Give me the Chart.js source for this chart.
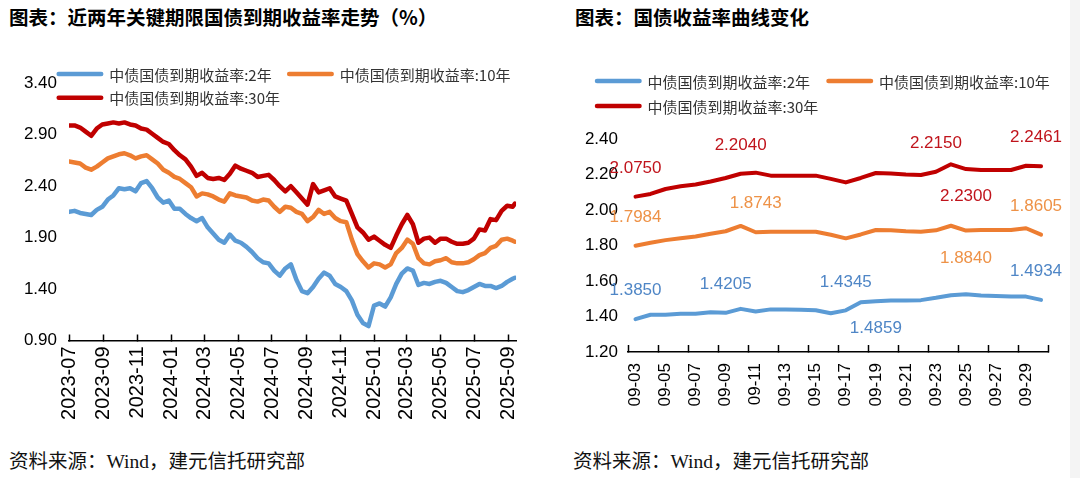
<!DOCTYPE html>
<html lang="zh-CN">
<head>
<meta charset="utf-8">
<title>国债收益率走势</title>
<script src="https://cdn.jsdelivr.net/npm/chart.js@4.4.1/dist/chart.umd.min.js"></script>
<style>
  html, body { margin: 0; padding: 0; background: #fff; }
  body { width: 1080px; height: 478px; position: relative; overflow: hidden; }
  .title { position: absolute; top: 5px; font: bold 19.5px "Noto Sans CJK SC", sans-serif; line-height: 24px; color: #000; white-space: nowrap; }
  .source { position: absolute; top: 450px; font: 19.5px "Liberation Serif", "Noto Sans CJK SC", serif; line-height: 24px; color: #111; white-space: nowrap; }
  .box { position: absolute; top: 40px; height: 400px; }
  .edge { position: absolute; top: 0; left: 1070px; width: 10px; height: 478px; background: #f4f4f4; }
</style>
</head>
<body>
<div class="title" style="left:9px">图表：近两年关键期限国债到期收益率走势（%）</div>
<div class="title" style="left:575px">图表：国债收益率曲线变化</div>
<div class="box" style="left:0; width:545px"><canvas id="trendChart"></canvas></div>
<div class="box" style="left:560px; width:520px"><canvas id="curveChart"></canvas></div>
<div class="source" style="left:9px">资料来源：Wind，建元信托研究部</div>
<div class="source" style="left:573px">资料来源：Wind，建元信托研究部</div>
<div class="edge"></div>

<script>
// --- left chart: two years of 2Y / 10Y / 30Y yields ---
const trendDates = [
  '2023-07-01','2023-07-11','2023-07-21','2023-07-31','2023-08-10','2023-08-20','2023-08-30','2023-09-09','2023-09-19','2023-09-29',
  '2023-10-09','2023-10-19','2023-10-29','2023-11-08','2023-11-18','2023-11-28','2023-12-08','2023-12-18','2023-12-28','2024-01-07',
  '2024-01-17','2024-01-27','2024-02-06','2024-02-16','2024-02-26','2024-03-07','2024-03-17','2024-03-27','2024-04-06','2024-04-16',
  '2024-04-26','2024-05-06','2024-05-16','2024-05-26','2024-06-05','2024-06-15','2024-06-25','2024-07-05','2024-07-15','2024-07-25',
  '2024-08-04','2024-08-14','2024-08-24','2024-09-03','2024-09-13','2024-09-23','2024-10-03','2024-10-13','2024-10-23','2024-11-02',
  '2024-11-12','2024-11-22','2024-12-02','2024-12-12','2024-12-22','2025-01-01','2025-01-11','2025-01-21','2025-01-31','2025-02-10',
  '2025-02-20','2025-03-02','2025-03-12','2025-03-22','2025-04-01','2025-04-11','2025-04-21','2025-05-01','2025-05-11','2025-05-21',
  '2025-05-31','2025-06-10','2025-06-20','2025-06-30','2025-07-10','2025-07-20','2025-07-30','2025-08-09','2025-08-19','2025-08-29',
  '2025-09-08','2025-09-12'
];
const trend2y = [
  2.15, 2.16, 2.14, 2.13, 2.12, 2.17, 2.20, 2.27, 2.31, 2.38,
  2.37, 2.38, 2.35, 2.43, 2.45, 2.38, 2.29, 2.24, 2.26, 2.18,
  2.18, 2.13, 2.09, 2.06, 2.09, 2.00, 1.94, 1.88, 1.85, 1.93,
  1.87, 1.85, 1.81, 1.76, 1.70, 1.66, 1.65, 1.58, 1.53, 1.60,
  1.64, 1.49, 1.38, 1.36, 1.42, 1.50, 1.56, 1.53, 1.45, 1.42,
  1.38, 1.29, 1.15, 1.07, 1.04, 1.24, 1.26, 1.23, 1.32, 1.45,
  1.55, 1.60, 1.58, 1.44, 1.46, 1.45, 1.47, 1.48, 1.46, 1.42,
  1.38, 1.37, 1.39, 1.42, 1.45, 1.43, 1.43, 1.41, 1.43, 1.47,
  1.50, 1.51
];
const trend10y = [
  2.64, 2.63, 2.62, 2.58, 2.56, 2.59, 2.63, 2.67, 2.69, 2.71,
  2.72, 2.70, 2.67, 2.69, 2.70, 2.66, 2.62, 2.56, 2.53, 2.49,
  2.47, 2.43, 2.39, 2.30, 2.33, 2.32, 2.30, 2.27, 2.25, 2.33,
  2.31, 2.30, 2.29, 2.26, 2.25, 2.27, 2.26, 2.20, 2.15, 2.20,
  2.19, 2.15, 2.13, 2.06, 2.10, 2.17, 2.13, 2.15, 2.09, 2.06,
  2.05, 1.88, 1.74, 1.67, 1.61, 1.65, 1.64, 1.61, 1.64, 1.75,
  1.80, 1.88, 1.84, 1.70, 1.65, 1.64, 1.67, 1.68, 1.70, 1.66,
  1.65, 1.65, 1.66, 1.69, 1.73, 1.75, 1.80, 1.82, 1.88, 1.89,
  1.87, 1.86
];
const trend30y = [
  2.99, 2.99, 2.97, 2.93, 2.89, 2.96, 3.00, 3.01, 3.02, 3.01,
  3.02, 3.00, 2.99, 2.96, 2.95, 2.91, 2.87, 2.83, 2.81, 2.75,
  2.70, 2.66, 2.59, 2.50, 2.53, 2.48, 2.47, 2.48, 2.46, 2.52,
  2.60, 2.57, 2.55, 2.53, 2.49, 2.50, 2.51, 2.46, 2.40, 2.35,
  2.40, 2.34, 2.28, 2.22, 2.42, 2.34, 2.36, 2.38, 2.30, 2.28,
  2.26, 2.13, 2.00, 1.95, 1.88, 1.91, 1.87, 1.83, 1.80, 1.92,
  2.03, 2.12, 2.03, 1.85, 1.89, 1.90, 1.85, 1.89, 1.89, 1.86,
  1.84, 1.84, 1.85, 1.89, 1.98, 1.97, 2.08, 2.07, 2.16, 2.21,
  2.20, 2.23
];
const trendTickLabels = ['2023-07','2023-09','2023-11','2024-01','2024-03','2024-05','2024-07',
  '2024-09','2024-11','2025-01','2025-03','2025-05','2025-07','2025-09'];
const trendYTicks = [0.90, 1.40, 1.90, 2.40, 2.90, 3.40];

// --- right chart: September daily curve ---
const curveDates = ['09-03','09-04','09-05','09-06','09-07','09-08','09-09','09-10','09-11','09-12',
  '09-13','09-14','09-15','09-16','09-17','09-18','09-19','09-20','09-21','09-22',
  '09-23','09-24','09-25','09-26','09-27','09-28','09-29','09-30'];
const curve2y = [1.3850, 1.410, 1.410, 1.415, 1.416, 1.424, 1.4205, 1.443, 1.428, 1.440,
  1.440, 1.438, 1.435, 1.418, 1.4345, 1.480, 1.4859, 1.490, 1.490, 1.492,
  1.505, 1.520, 1.525, 1.518, 1.515, 1.512, 1.512, 1.4934];
const curve10y = [1.7984, 1.815, 1.830, 1.840, 1.850, 1.866, 1.880, 1.910, 1.8743, 1.877,
  1.877, 1.877, 1.877, 1.860, 1.840, 1.862, 1.887, 1.885, 1.880, 1.877,
  1.885, 1.911, 1.8840, 1.887, 1.887, 1.887, 1.897, 1.8605];
const curve30y = [2.0750, 2.090, 2.118, 2.133, 2.143, 2.160, 2.180, 2.2040, 2.210, 2.193,
  2.193, 2.193, 2.193, 2.175, 2.155, 2.180, 2.208, 2.205, 2.200, 2.197,
  2.2150, 2.257, 2.2300, 2.225, 2.225, 2.225, 2.249, 2.2461];
// indexes of the points that carry a value label
const curveLabels2y = [0, 6, 14, 16, 27];
const curveLabels10y = [0, 8, 22, 27];
const curveLabels30y = [0, 7, 20, 22, 27];
const curveYTicks = [1.20, 1.40, 1.60, 1.80, 2.00, 2.20, 2.40];

const BLUE = '#5B9BD5';
const ORANGE = '#ED7D31';
const RED = '#C00000';
const TICK_FONT = { family: '"Liberation Sans", Arial, sans-serif', size: 17 };
const DATE_FONT = { family: '"Liberation Sans", Arial, sans-serif', size: 20 };

Chart.defaults.color = '#000';
Chart.defaults.font.family = TICK_FONT.family;

const dayOf = s => (Date.UTC(+s.slice(0, 4), +s.slice(5, 7) - 1, +s.slice(8, 10)) - Date.UTC(2023, 6, 1)) / 86400000;

// legend drawn as thick line swatches, wrapping like the original
const lineLegend = {
  id: 'lineLegend',
  afterDraw(chart, args, opts) {
    const { ctx } = chart;
    ctx.save();
    ctx.font = '15px "Noto Sans CJK SC", sans-serif';
    ctx.textBaseline = 'middle';
    ctx.textAlign = 'left';
    let x = opts.left;
    let y = opts.top;
    chart.data.datasets.forEach((ds, i) => {
      const itemW = opts.swatch + opts.textGap + ctx.measureText(ds.label).width;
      if (i > 0 && x + itemW > chart.width) {
        x = opts.left;
        y += opts.rowGap;
      }
      ctx.beginPath();
      ctx.lineCap = 'round';
      ctx.lineWidth = 4.5;
      ctx.strokeStyle = ds.borderColor;
      ctx.moveTo(x + 2, y);
      ctx.lineTo(x + opts.swatch - 2, y);
      ctx.stroke();
      ctx.fillStyle = '#333';
      ctx.fillText(ds.label, x + opts.swatch + opts.textGap, y + 1);
      x += itemW + opts.itemGap;
    });
    ctx.restore();
  }
};

// value labels above (or below) selected points
const pointValues = {
  id: 'pointValues',
  afterDatasetsDraw(chart, args, opts) {
    const { ctx, chartArea } = chart;
    ctx.save();
    ctx.font = '17px "Liberation Sans", Arial, sans-serif';
    ctx.textAlign = 'center';
    ctx.textBaseline = 'middle';
    chart.data.datasets.forEach((ds, di) => {
      const meta = chart.getDatasetMeta(di);
      ds.valueLabels.forEach(idx => {
        const pt = meta.data[idx];
        const text = ds.data[idx].toFixed(4);
        const w = ctx.measureText(text).width;
        const x = Math.min(pt.x, chartArea.right + opts.overhang - w / 2);
        const below = (opts.below[di] || []).includes(idx);
        ctx.fillStyle = ds.labelColor;
        ctx.fillText(text, x, below ? pt.y + opts.belowGap : pt.y - opts.aboveGap);
      });
    });
    ctx.restore();
  }
};

const lineStyle = { pointRadius: 0, tension: 0, borderJoinStyle: 'round', borderCapStyle: 'round' };
const trendDays = trendDates.map(dayOf);
const toPoints = values => trendDays.map((d, i) => ({ x: d, y: values[i] }));

new Chart(document.getElementById('trendChart'), {
  type: 'line',
  data: {
    datasets: [
      { label: '中债国债到期收益率:2年', data: toPoints(trend2y), borderColor: BLUE, borderWidth: 4.5, order: 2, ...lineStyle },
      { label: '中债国债到期收益率:10年', data: toPoints(trend10y), borderColor: ORANGE, borderWidth: 4.5, order: 1, ...lineStyle },
      { label: '中债国债到期收益率:30年', data: toPoints(trend30y), borderColor: RED, borderWidth: 4.5, order: 0, ...lineStyle }
    ]
  },
  options: {
    responsive: true,
    maintainAspectRatio: false,
    animation: false,
    layout: { padding: { top: 43.3, right: 10.6, bottom: 0, left: 0 } },
    scales: {
      x: {
        type: 'linear',
        min: 0,
        max: dayOf('2025-09-14'),
        afterBuildTicks: axis => { axis.ticks = trendTickLabels.map(l => ({ value: dayOf(l + '-01') })); },
        afterFit: axis => { axis.height = 99.5; },
        grid: { drawOnChartArea: false, drawTicks: true, tickLength: -6, tickColor: '#000', tickWidth: 1.5 },
        border: { display: true, color: '#000', width: 1.5 },
        ticks: {
          autoSkip: false, minRotation: 90, maxRotation: 90, padding: 12, color: '#000', font: DATE_FONT,
          callback: (v, i) => trendTickLabels[i]
        }
      },
      y: {
        min: 0.9,
        max: 3.4,
        afterBuildTicks: axis => { axis.ticks = trendYTicks.map(v => ({ value: v })); },
        afterFit: axis => { axis.width = 69; },
        grid: { display: false, drawTicks: false },
        border: { display: false },
        ticks: { padding: 12, color: '#000', font: TICK_FONT, callback: v => v.toFixed(2) }
      }
    },
    plugins: {
      legend: { display: false },
      tooltip: { enabled: false },
      lineLegend: { left: 56.7, top: 34, rowGap: 23.7, swatch: 46.5, textGap: 6, itemGap: 15.5 }
    }
  },
  plugins: [lineLegend]
});

new Chart(document.getElementById('curveChart'), {
  type: 'line',
  data: {
    labels: curveDates,
    datasets: [
      { label: '中债国债到期收益率:2年', data: curve2y, borderColor: BLUE, borderWidth: 4, labelColor: '#4F86C6', valueLabels: curveLabels2y, order: 2, ...lineStyle },
      { label: '中债国债到期收益率:10年', data: curve10y, borderColor: ORANGE, borderWidth: 4, labelColor: '#EE9247', valueLabels: curveLabels10y, order: 1, ...lineStyle },
      { label: '中债国债到期收益率:30年', data: curve30y, borderColor: RED, borderWidth: 4, labelColor: '#C0141C', valueLabels: curveLabels30y, order: 0, ...lineStyle }
    ]
  },
  options: {
    responsive: true,
    maintainAspectRatio: false,
    animation: false,
    layout: { padding: { top: 98.9, right: 30, bottom: 0, left: 0 } },
    scales: {
      x: {
        type: 'category',
        offset: true,
        afterFit: axis => { axis.height = 88; },
        grid: {
          offset: true, drawOnChartArea: false, drawTicks: true, tickLength: -7, tickWidth: 1.5,
          // a tick mark every second day boundary
          tickColor: c => (c.index === undefined || c.index % 2 === 0) ? '#000' : 'rgba(0,0,0,0)'
        },
        border: { display: true, color: '#000', width: 1.5 },
        ticks: {
          autoSkip: false, minRotation: 90, maxRotation: 90, padding: 18, color: '#000', font: TICK_FONT,
          callback: (v, i) => i % 2 === 0 ? curveDates[i] : ''
        }
      },
      y: {
        min: 1.2,
        max: 2.4,
        afterBuildTicks: axis => { axis.ticks = curveYTicks.map(v => ({ value: v })); },
        afterFit: axis => { axis.width = 68; },
        grid: { display: false, drawTicks: false },
        border: { display: false },
        ticks: { padding: 10, color: '#000', font: TICK_FONT, callback: v => v.toFixed(2) }
      }
    },
    plugins: {
      legend: { display: false },
      tooltip: { enabled: false },
      lineLegend: { left: 35, top: 41, rowGap: 25, swatch: 46.5, textGap: 6, itemGap: 16.5 },
      pointValues: { aboveGap: 28.5, belowGap: 27.5, overhang: 13.5, below: { 0: [16], 1: [22], 2: [22] } }
    }
  },
  plugins: [lineLegend, pointValues]
});
</script>
</body>
</html>
